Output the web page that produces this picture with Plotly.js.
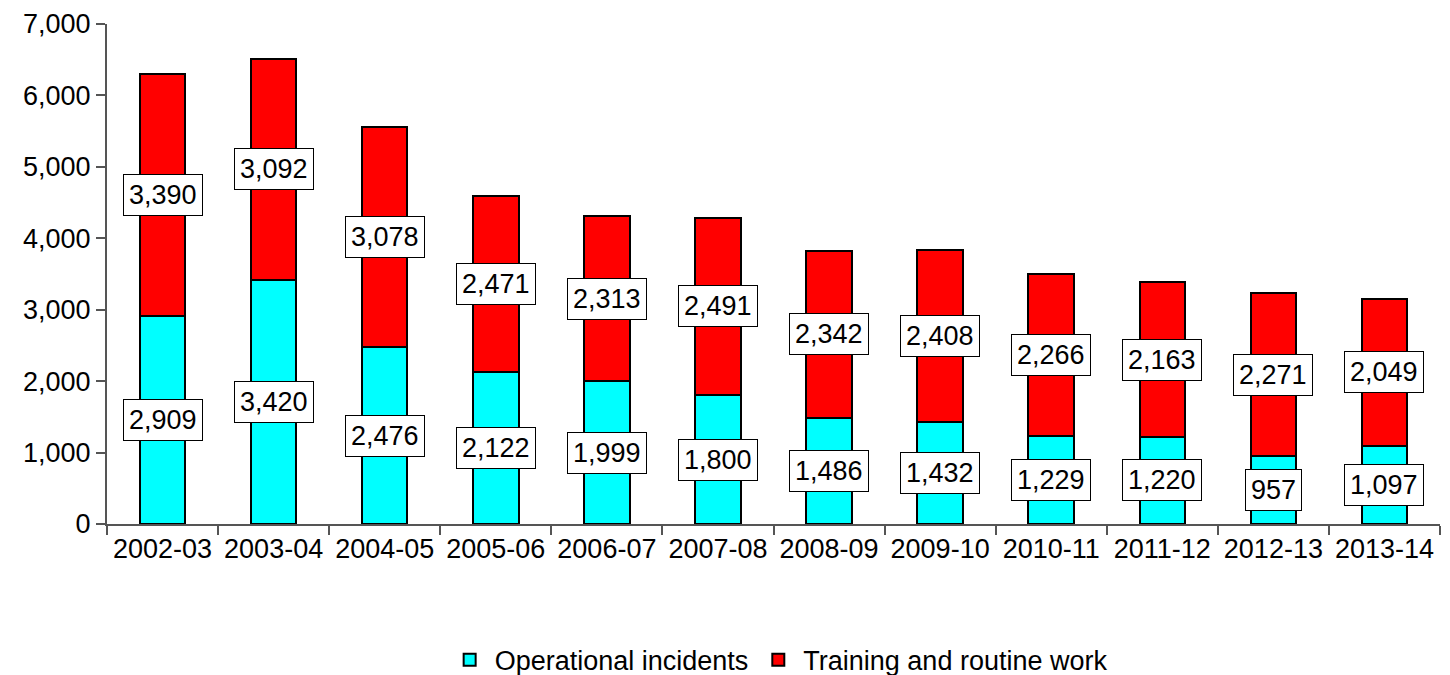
<!DOCTYPE html>
<html>
<head>
<meta charset="utf-8">
<script src="https://cdn.plot.ly/plotly-3.0.1.min.js"></script>
<style>
  html, body { margin: 0; padding: 0; background: #fff; }
  #chart { width: 1450px; height: 675px; }
</style>
</head>
<body>
<div id="chart"></div>
<script>
// Years on the x axis
var years = ["2002-03", "2003-04", "2004-05", "2005-06", "2006-07", "2007-08",
             "2008-09", "2009-10", "2010-11", "2011-12", "2012-13", "2013-14"];
// Two stacked series
var operational = [2909, 3420, 2476, 2122, 1999, 1800, 1486, 1432, 1229, 1220, 957, 1097];
var training = [3390, 3092, 3078, 2471, 2313, 2491, 2342, 2408, 2266, 2163, 2271, 2049];

var labelFont = { family: "Liberation Sans, Arial, sans-serif", size: 27, color: "#000" };

var trace1 = {
  x: years,
  y: operational,
  name: "Operational incidents",
  type: "bar",
  marker: { color: "#00FFFF", line: { color: "#000", width: 2 } },
  hoverinfo: "none"
};
var trace2 = {
  x: years,
  y: training,
  name: "Training and routine work",
  type: "bar",
  marker: { color: "#FF0000", line: { color: "#000", width: 2 } },
  hoverinfo: "none"
};

// boxed value labels sit in the middle of each segment
var annotations = [];
years.forEach(function(yr, i) {
  annotations.push({
    x: yr, y: operational[i] / 2, xref: "x", yref: "y",
    text: operational[i].toLocaleString("en-US"),
    showarrow: false, bgcolor: "#fff", bordercolor: "#000",
    borderwidth: 1, borderpad: 5, font: labelFont
  });
  annotations.push({
    x: yr, y: operational[i] + training[i] / 2, xref: "x", yref: "y",
    text: training[i].toLocaleString("en-US"),
    showarrow: false, bgcolor: "#fff", bordercolor: "#000",
    borderwidth: 1, borderpad: 5, font: labelFont
  });
});

var layout = {
  width: 1450,
  height: 675,
  barmode: "stack",
  bargap: 0.59,
  margin: { l: 107, r: 10, t: 24, b: 151, autoexpand: false },
  paper_bgcolor: "#fff",
  plot_bgcolor: "#fff",
  font: labelFont,
  showlegend: true,
  legend: {
    orientation: "h",
    x: 0.537, xanchor: "center", xref: "container",
    y: 0.022, yanchor: "middle", yref: "container",
    font: labelFont,
    itemwidth: 40,
    traceorder: "normal"
  },
  xaxis: {
    type: "category",
    showline: true, linecolor: "#555", linewidth: 2,
    ticks: "outside", tickson: "boundaries", ticklen: 9, tickcolor: "#555", tickwidth: 2,
    showgrid: false, zeroline: false, automargin: false,
    tickfont: labelFont
  },
  yaxis: {
    range: [0, 7000], dtick: 1000, tickformat: ",",
    showline: true, linecolor: "#555", linewidth: 2,
    ticks: "outside", ticklen: 9, tickcolor: "#555", tickwidth: 2,
    showgrid: false, zeroline: false, automargin: false,
    tickfont: labelFont
  },
  annotations: annotations
};

Plotly.newPlot("chart", [trace1, trace2], layout, { staticPlot: true });
</script>
</body>
</html>
